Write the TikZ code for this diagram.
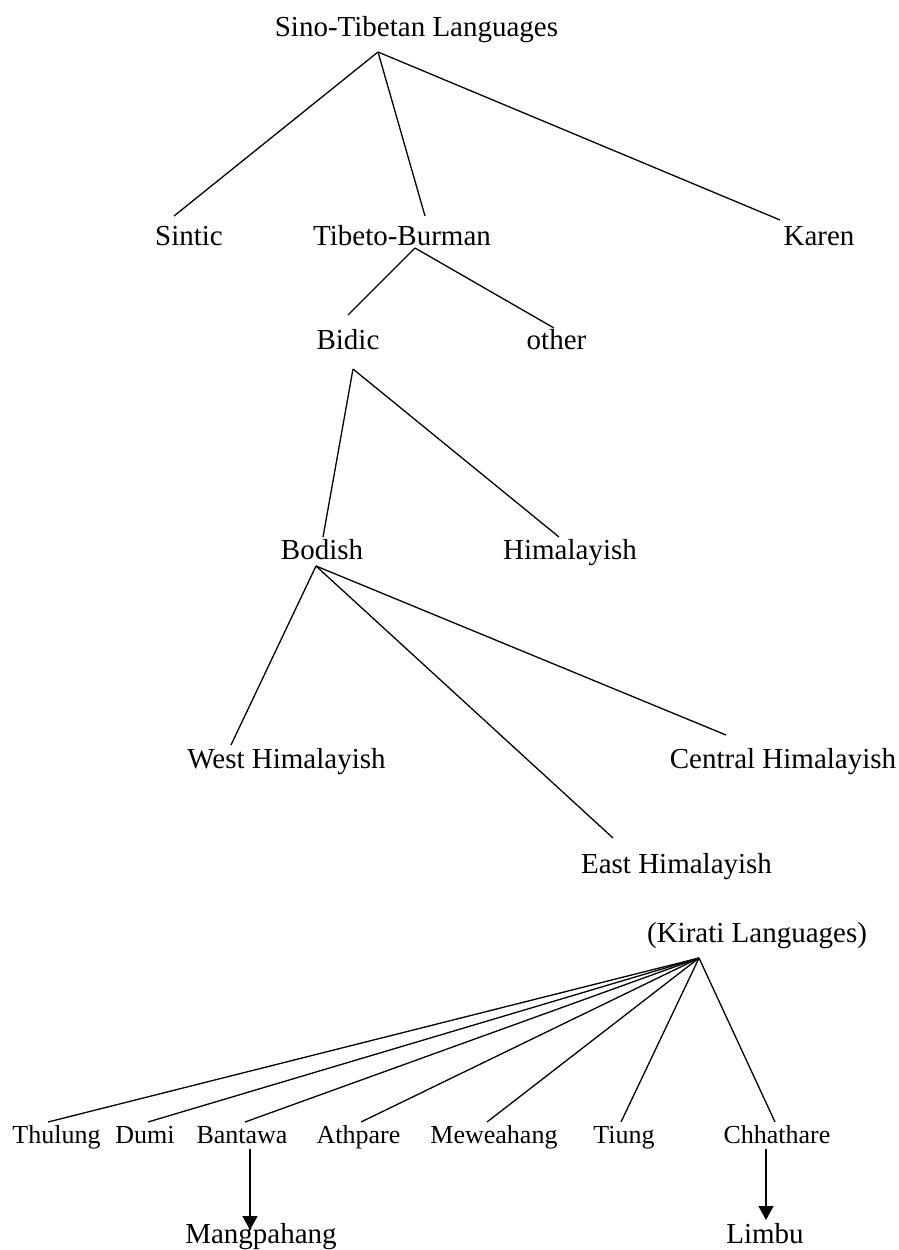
\documentclass[tikz,border=0pt]{standalone}
\usepackage{fontspec}
\setmainfont{Liberation Serif}
\usetikzlibrary{calc,arrows.meta}
\begin{document}
\begin{tikzpicture}[x=1pt,y=-1pt,
  lbl/.style={inner sep=0pt, anchor=base, font=\fontsize{29}{34}\selectfont},
  sm/.style={inner sep=0pt, anchor=base, font=\fontsize{26}{30}\selectfont},
  edge/.style={line width=1.3pt},
  arr/.style={line width=1.3pt,-{Triangle[length=14pt,width=15pt]}}]
\useasboundingbox (0,0) rectangle (898,1250);
\fill[white] (0,0) rectangle (898,1250);
% nodes
\node[lbl] (st)  at (416.5,36) {Sino-Tibetan Languages};
\node[lbl] (sin) at (189,245) {Sintic};
\node[lbl] (tb)  at (402,245) {Tibeto-Burman};
\node[lbl] (kar) at (819,245) {Karen};
\node[lbl] (bid) at (348,349) {Bidic};
\node[lbl] (oth) at (556.5,349) {other};
\node[lbl] (bod) at (322,559) {Bodish};
\node[lbl] (him) at (570,559) {Himalayish};
\node[lbl] (wh)  at (286.5,768) {West Himalayish};
\node[lbl] (ch)  at (783,768) {Central Himalayish};
\node[lbl] (eh)  at (676.5,873) {East Himalayish};
\node[lbl] (kir) at (757,942) {(Kirati Languages)};
\node[sm] (thu) at (56.5,1143) {Thulung};
\node[sm] (dum) at (145,1143) {Dumi};
\node[sm] (ban) at (242,1143) {Bantawa};
\node[sm] (ath) at (358.5,1143) {Athpare};
\node[sm] (mew) at (494,1143) {Meweahang};
\node[sm] (tiu) at (624,1143) {Tiung};
\node[sm] (chh) at (777,1143) {Chhathare};
\node[lbl] (man) at (261,1243) {Mangpahang};
\node[lbl] (lim) at (765,1243) {Limbu};
% connectors
\draw[edge] ($(st.base)+(-38.5,16)$) -- ($(sin.base)+(-15,-29)$);
\draw[edge] ($(st.base)+(-38.5,16)$) -- ($(tb.base)+(23,-29)$);
\draw[edge] ($(st.base)+(-38.5,16)$) -- ($(kar.base)+(-39,-25)$);
\draw[edge] ($(tb.base)+(13,3)$) -- ($(bid.base)+(0,-34)$);
\draw[edge] ($(tb.base)+(13,3)$) -- ($(oth.base)+(-2.5,-21)$);
\draw[edge] ($(bid.base)+(5,20)$) -- ($(bod.base)+(1,-22)$);
\draw[edge] ($(bid.base)+(5,20)$) -- ($(him.base)+(-11,-22)$);
\draw[edge] ($(bod.base)+(-6,7)$) -- ($(wh.base)+(-55.5,-23)$);
\draw[edge] ($(bod.base)+(-6,7)$) -- ($(ch.base)+(-57,-33)$);
\draw[edge] ($(bod.base)+(-6,7)$) -- ($(eh.base)+(-63.5,-35)$);
\draw[edge] ($(kir.base)+(-58,16)$) -- ($(thu.base)+(-8.5,-21)$);
\draw[edge] ($(kir.base)+(-58,16)$) -- ($(dum.base)+(3,-21)$);
\draw[edge] ($(kir.base)+(-58,16)$) -- ($(ban.base)+(3,-21)$);
\draw[edge] ($(kir.base)+(-58,16)$) -- ($(ath.base)+(2.5,-21)$);
\draw[edge] ($(kir.base)+(-58,16)$) -- ($(mew.base)+(-7,-21)$);
\draw[edge] ($(kir.base)+(-58,16)$) -- ($(tiu.base)+(-3,-21)$);
\draw[edge] ($(kir.base)+(-58,16)$) -- ($(chh.base)+(-2,-21)$);
\draw[arr] ($(ban.base)+(8,6)$) -- ($(man.base)+(-11,-13)$);
\draw[arr] ($(chh.base)+(-11,6)$) -- ($(lim.base)+(1,-23)$);
\end{tikzpicture}
\end{document}
